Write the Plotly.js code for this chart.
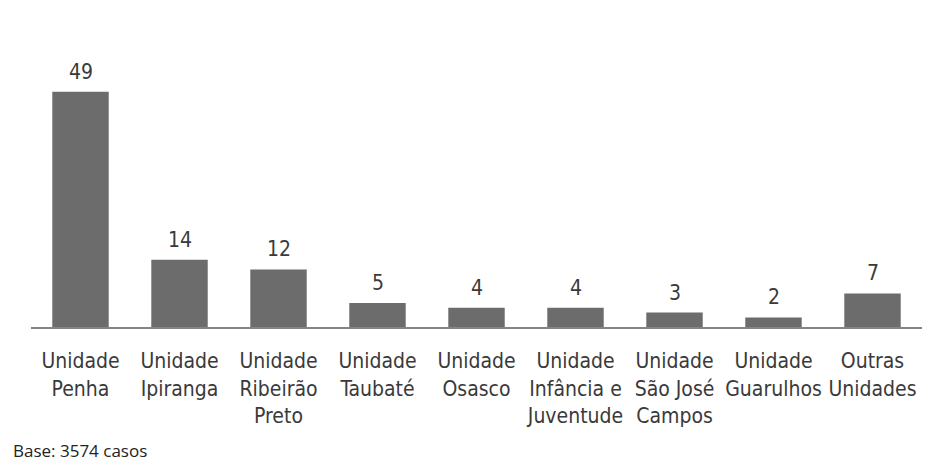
<!DOCTYPE html>
<html>
<head>
<meta charset="utf-8">
<script src="https://cdn.plot.ly/plotly-3.0.1.min.js"></script>
<style>html,body{margin:0;padding:0;background:#fff;}#chart{width:927px;height:465px;}</style>
</head>
<body>
<div id="chart"></div>
<script>
const categories = [
  "Unidade<br>Penha",
  "Unidade<br>Ipiranga",
  "Unidade<br>Ribeirão<br>Preto",
  "Unidade<br>Taubaté",
  "Unidade<br>Osasco",
  "Unidade<br>Infância e<br>Juventude",
  "Unidade<br>São José<br>Campos",
  "Unidade<br>Guarulhos",
  "Outras<br>Unidades"
];
const values = [49, 14, 12, 5, 4, 4, 3, 2, 7];
const footnote = "Base: 3574 casos";

const font = "DejaVu Sans Condensed, DejaVu Sans, Verdana, sans-serif";

const trace = {
  type: "bar",
  x: categories,
  y: values,
  marker: {color: "#6c6c6c"},
  hoverinfo: "skip"
};

const annotations = categories.map((c, i) => ({
  x: c, y: values[i], xref: "x", yref: "y",
  text: String(values[i]),
  showarrow: false,
  yanchor: "bottom",
  yshift: 6,
  font: {family: font, size: 21, color: "#3a3a3a"}
}));
annotations.push({
  xref: "paper", yref: "paper", x: -0.022, y: -0.43,
  xanchor: "left", yanchor: "middle",
  text: footnote, showarrow: false,
  font: {family: "Open Sans, sans-serif", size: 17, color: "#222"}
});

const layout = {
  width: 927, height: 465,
  margin: {l: 31, r: 5, t: 39, b: 138},
  paper_bgcolor: "#fff", plot_bgcolor: "#fff",
  bargap: 0.43,
  showlegend: false,
  xaxis: {
    type: "category",
    showline: true, linecolor: "#858585", linewidth: 2,
    ticks: "", showgrid: false, zeroline: false,
    tickfont: {family: font, size: 21, color: "#3a3a3a"},
    ticklabelstandoff: 14,
    fixedrange: true
  },
  yaxis: {
    range: [0, 60],
    visible: false, showgrid: false, zeroline: false,
    fixedrange: true
  },
  annotations: annotations
};

Plotly.newPlot("chart", [trace], layout, {displayModeBar: false, staticPlot: true});
</script>
</body>
</html>
